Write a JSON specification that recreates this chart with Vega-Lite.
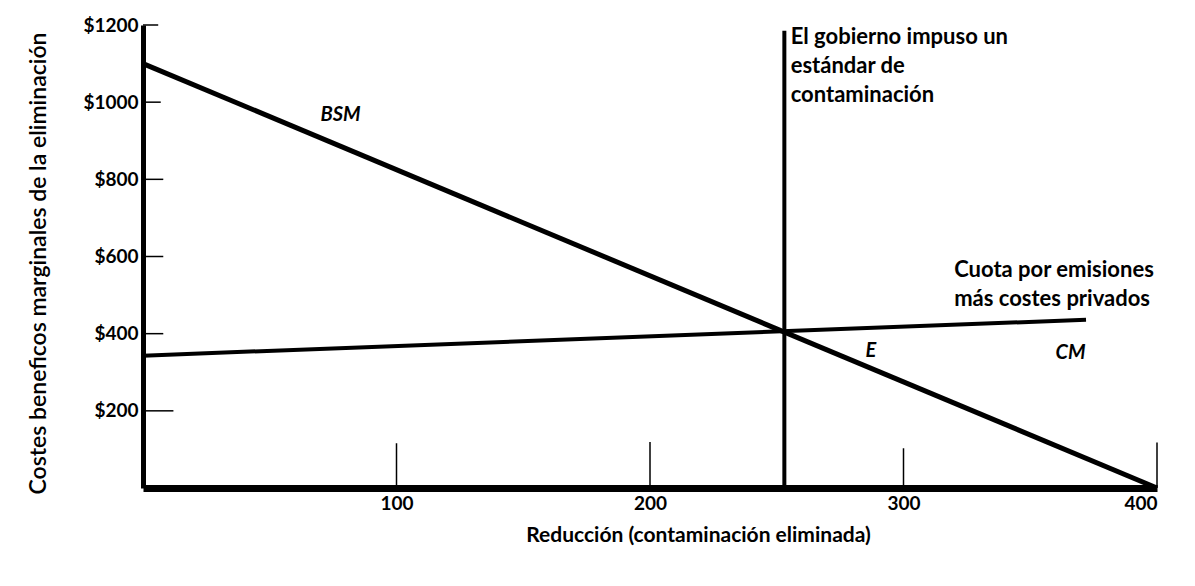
{
  "$schema": "https://vega.github.io/schema/vega-lite/v6.json",
  "autosize": "none",
  "width": 1014,
  "height": 463,
  "padding": {"left": 143, "top": 25, "right": 38, "bottom": 98},
  "background": "white",
  "config": {
    "view": {"stroke": null},
    "font": "Lato",
    "axis": {"grid": false, "ticks": false, "domainColor": "black", "labelColor": "black", "titleColor": "black", "labelFont": "Lato", "titleFont": "Lato"}
  },
  "datasets": {
    "bsm": [{"x": 0, "y": 1100}, {"x": 400, "y": 0}],
    "cm": [{"x": 0, "y": 343}, {"x": 372, "y": 436}],
    "std": [{"x": 253, "y": 0, "y2": 1185}],
    "xticks": [{"x": 100, "y": 0, "y2": 116}, {"x": 200, "y": 0, "y2": 119}, {"x": 300, "y": 0, "y2": 103}, {"x": 400, "y": 0, "y2": 118}],
    "yticks": [{"y": 200, "x": 0, "x2": 12}, {"y": 400, "x": 0, "x2": 8}, {"y": 600, "x": 0, "x2": 8}, {"y": 800, "x": 0, "x2": 8}, {"y": 1000, "x": 0, "x2": 7}, {"y": 1200, "x": 0, "x2": 6}],
    "italics": [{"x": 70, "y": 968, "t": "BSM"}, {"x": 285, "y": 356, "t": "E"}, {"x": 360, "y": 351, "t": "CM"}],
    "notes": [{"x": 255.5, "y": 1194, "t": "El gobierno impuso un\nestándar de\ncontaminación"}, {"x": 320, "y": 590, "t": "Cuota por emisiones\nmás costes privados"}]
  },
  "layer": [
    {
      "data": {"name": "xticks"},
      "mark": {"type": "rule", "color": "black", "strokeWidth": 1.5},
      "encoding": {
        "x": {"field": "x", "type": "quantitative", "scale": {"domain": [0, 400], "nice": false},
          "axis": {"values": [100, 200, 300, 400], "domainWidth": 7, "labelFontSize": 19, "labelFontWeight": "bold", "labelPadding": 6,
            "title": "Reducción (contaminación eliminada)", "titleFontSize": 21, "titleFontWeight": "bold", "titlePadding": 11, "titleX": 555, "titleAnchor": "middle"}},
        "y": {"field": "y", "type": "quantitative", "scale": {"domain": [0, 1200], "nice": false},
          "axis": {"values": [200, 400, 600, 800, 1000, 1200], "labelExpr": "'$' + datum.value", "domainWidth": 5, "labelFontSize": 19, "labelFontWeight": "bold", "labelPadding": 5,
            "title": "Costes beneficos marginales de la eliminación", "titleFontSize": 23, "titleFontWeight": 600, "titlePadding": 32, "titleY": 238}},
        "y2": {"field": "y2"}
      }
    },
    {
      "data": {"name": "yticks"},
      "mark": {"type": "rule", "color": "black", "strokeWidth": 1.5},
      "encoding": {
        "x": {"field": "x", "type": "quantitative"},
        "x2": {"field": "x2"},
        "y": {"field": "y", "type": "quantitative"}
      }
    },
    {
      "data": {"name": "bsm"},
      "mark": {"type": "line", "color": "black", "strokeWidth": 5},
      "encoding": {"x": {"field": "x", "type": "quantitative"}, "y": {"field": "y", "type": "quantitative"}}
    },
    {
      "data": {"name": "cm"},
      "mark": {"type": "line", "color": "black", "strokeWidth": 4},
      "encoding": {"x": {"field": "x", "type": "quantitative"}, "y": {"field": "y", "type": "quantitative"}}
    },
    {
      "data": {"name": "std"},
      "mark": {"type": "rule", "color": "black", "strokeWidth": 4},
      "encoding": {"x": {"field": "x", "type": "quantitative"}, "y": {"field": "y", "type": "quantitative"}, "y2": {"field": "y2"}}
    },
    {
      "data": {"name": "italics"},
      "mark": {"type": "text", "font": "Lato", "fontSize": 20, "fontWeight": "bold", "fontStyle": "italic", "align": "left", "baseline": "middle", "color": "black"},
      "encoding": {"x": {"field": "x", "type": "quantitative"}, "y": {"field": "y", "type": "quantitative"}, "text": {"field": "t"}}
    },
    {
      "data": {"name": "notes"},
      "mark": {"type": "text", "font": "Lato", "fontSize": 22, "fontWeight": "bold", "align": "left", "baseline": "top", "lineBreak": "\n", "lineHeight": 29, "color": "black"},
      "encoding": {"x": {"field": "x", "type": "quantitative"}, "y": {"field": "y", "type": "quantitative"}, "text": {"field": "t"}}
    }
  ]
}
